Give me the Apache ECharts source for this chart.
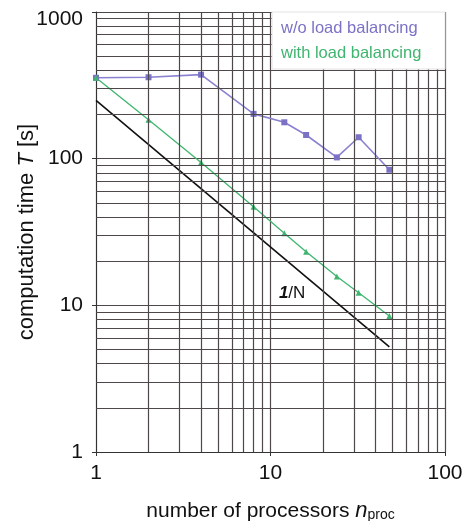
<!DOCTYPE html>
<html><head><meta charset="utf-8">
<script src="https://cdn.jsdelivr.net/npm/echarts@6/dist/echarts.min.js"></script>
<style>html,body{margin:0;padding:0;background:#fff}#c{width:462px;height:521px}</style>
</head><body><div id="c"></div>
<script>
var procs = [1, 2, 4, 8, 12, 16, 24, 32, 48];
var withoutLB = [356, 359, 374, 202, 177, 145, 102, 140, 84];
var withLB = [356, 184, 94, 47, 31, 23.2, 15.7, 12.2, 8.45];
var idealProcs = [1, 48];
var ideal = [250, 5.2];
var xMinor = [2,3,4,5,6,7,8,9,20,30,40,50,60,70,80,90];
var yMinor = [2,3,4,5,6,7,8,9,20,30,40,50,60,70,80,90,200,300,400,500,600,700,800,900];

function pairs(xs, ys){ return xs.map(function(x,i){return [x, ys[i]];}); }
var gridColor = '#4f4848';
var font = 'Liberation Sans, Arial, sans-serif';

var chart = echarts.init(document.getElementById('c'));
var gridLines = xMinor.map(function(v){return {xAxis: v};}).concat(yMinor.map(function(v){return {yAxis: v};}));

chart.setOption({
  animation: false,
  grid: {left: 96, right: 17, top: 12, bottom: 69, containLabel: false, outerBoundsMode: 'none'},
  graphic: [{
    type: 'rect', z: 50, silent: true,
    shape: {x: 272, y: 12, width: 173, height: 57},
    style: {fill: '#fff', stroke: '#e4e4e4', lineWidth: 1}
  }],
  legend: {
    data: [
      {name: 'w/o load balancing', textStyle: {color: '#7b72c6'}},
      {name: 'with load balancing', textStyle: {color: '#3fb56f'}}
    ],
    z: 60,
    orient: 'vertical', left: 276, top: 20,
    icon: 'none', itemWidth: 0, itemHeight: 10, itemGap: 8,
    padding: 0,
    textStyle: {fontFamily: font, fontSize: 16.5, padding: 0},
    selectedMode: false
  },
  xAxis: {
    type: 'log', logBase: 10, min: 1, max: 100,
    name: '{a|number of processors }{i|n}{s|proc}',
    nameLocation: 'middle', nameGap: 48, nameMoveOverlap: false,
    nameTextStyle: {rich: {
      a: {fontFamily: font, fontSize: 21, color: '#111'},
      i: {fontFamily: font, fontSize: 22, fontStyle: 'italic', color: '#111'},
      s: {fontFamily: font, fontSize: 14, color: '#111', verticalAlign: 'bottom', padding: [7,0,0,0]}
    }},
    axisLine: {lineStyle: {color: '#333', width: 1}},
    axisTick: {show: true, length: 4, inside: false, lineStyle: {color: '#333'}},
    axisLabel: {fontFamily: font, fontSize: 21, color: '#111', margin: 11,
      formatter: function(v){ return String(v); }},
    splitLine: {show: true, lineStyle: {color: gridColor, width: 1.2}}
  },
  yAxis: {
    type: 'log', logBase: 10, min: 1, max: 1000,
    name: '{a|computation time }{i|T}{a| [s]}',
    nameLocation: 'middle', nameGap: 58, nameRotate: 90, nameMoveOverlap: false,
    nameTextStyle: {rich: {
      a: {fontFamily: font, fontSize: 22, color: '#111'},
      i: {fontFamily: font, fontSize: 22, fontStyle: 'italic', color: '#111'}
    }},
    axisLine: {lineStyle: {color: '#333', width: 1}},
    axisTick: {show: true, length: 4, lineStyle: {color: '#333'}},
    axisLabel: {fontFamily: font, fontSize: 21, color: '#111', margin: 13,
      formatter: function(v){ return v >= 1000 ? '{t|' + v + '}' : String(v); },
      rich: {t: {fontFamily: font, fontSize: 21, color: '#111', padding: [14, 0, 0, 0]}}},
    splitLine: {show: true, lineStyle: {color: gridColor, width: 1.2}}
  },
  series: [
    {
      type: 'line', data: [], z: 1, silent: true,
      markLine: {silent: true, symbol: 'none', label: {show: false},
        lineStyle: {color: gridColor, width: 1.2, type: 'solid'}, data: gridLines}
    },
    {
      name: 'ideal', type: 'line', data: pairs(idealProcs, ideal), z: 3,
      symbol: 'none', lineStyle: {color: '#111', width: 1.6},
      markPoint: {symbol: 'circle', symbolSize: 0, silent: true,
        data: [{coord: [13.3, 12.1], value: 0}],
        label: {show: true, position: 'inside',
          formatter: '{b|1}{n|/N}',
          rich: {b: {fontFamily: font, fontSize: 17, fontWeight: 'bold', fontStyle: 'italic', color: '#111'},
                 n: {fontFamily: font, fontSize: 17, color: '#111'}}}}
    },
    {
      name: 'w/o load balancing', type: 'line', data: pairs(procs, withoutLB), z: 4,
      symbol: 'rect', symbolSize: 6, color: '#7b72c6',
      lineStyle: {color: '#8a82d0', width: 1.6}
    },
    {
      name: 'with load balancing', type: 'line', data: pairs(procs, withLB), z: 4,
      symbol: 'triangle', symbolSize: 6, color: '#3fb56f',
      lineStyle: {color: '#3fb56f', width: 1.3}
    }
  ]
});
</script></body></html>
